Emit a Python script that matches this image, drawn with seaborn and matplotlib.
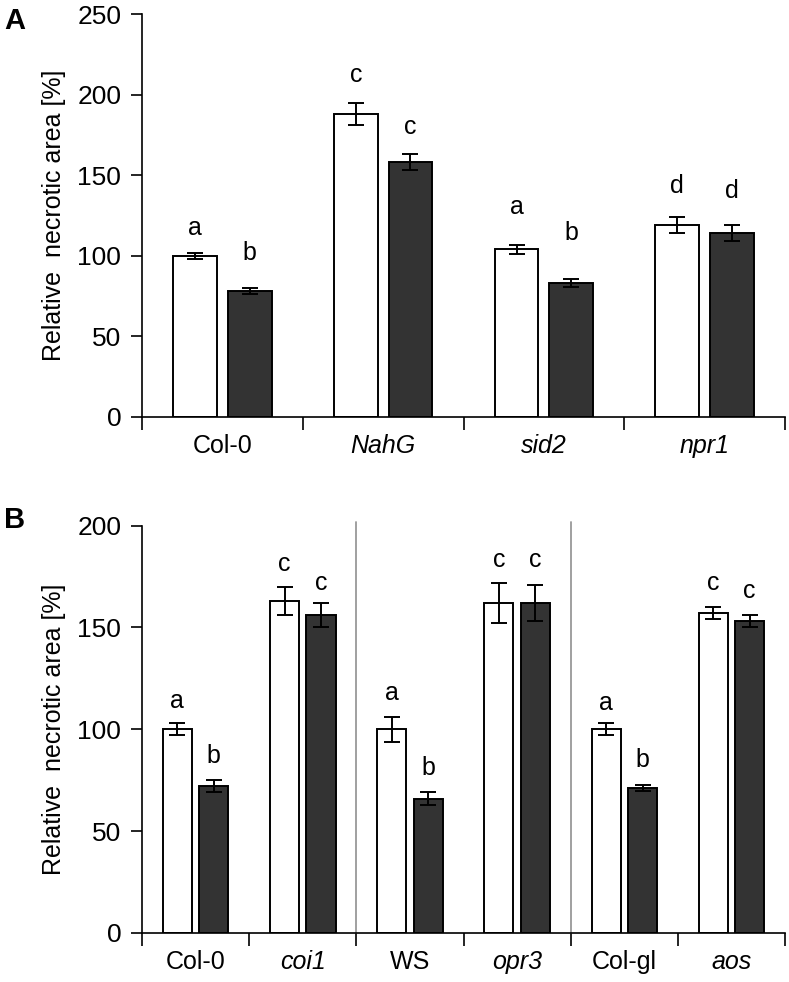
import numpy as np
import pandas as pd
import matplotlib.pyplot as plt
import seaborn as sns

# Painel A
a_genotypes = ['Col-0', 'NahG', 'sid2', 'npr1']
a_mock = [100, 188, 104, 119]
a_mock_err = [2, 7, 3, 5]
a_treat = [78, 158, 83, 114]
a_treat_err = [2, 5, 2.5, 5]
a_letters_mock = ['a', 'c', 'a', 'd']
a_letters_treat = ['b', 'c', 'b', 'd']
a_letter_y_mock = [117, 212, 130, 143]
a_letter_y_treat = [102, 180, 114, 140]

# Painel B
b_genotypes = ['Col-0', 'coi1', 'WS', 'opr3', 'Col-gl', 'aos']
b_mock = [100, 163, 100, 162, 100, 157]
b_mock_err = [3, 7, 6, 10, 3, 3]
b_treat = [72, 156, 66, 162, 71, 153]
b_treat_err = [3, 6, 3, 9, 1.5, 3]
b_letters_mock = ['a', 'c', 'a', 'c', 'a', 'c']
b_letters_treat = ['b', 'c', 'b', 'c', 'b', 'c']
b_letter_y_mock = [114, 181, 118, 183, 113, 172]
b_letter_y_treat = [87, 172, 81, 183, 85, 168]

italic = {'NahG', 'sid2', 'npr1', 'coi1', 'opr3', 'aos'}

sns.set_style('ticks')
plt.rcParams['font.family'] = ['Liberation Sans', 'DejaVu Sans']
plt.rcParams['text.color'] = 'black'
plt.rcParams['axes.labelcolor'] = 'black'
plt.rcParams['xtick.color'] = 'black'
plt.rcParams['ytick.color'] = 'black'
plt.rcParams['axes.edgecolor'] = 'black'

fig = plt.figure(figsize=(7.89, 9.82), dpi=100)
ax_a = fig.add_axes([0.18, 0.5754, 0.815, 0.4103])
ax_b = fig.add_axes([0.18, 0.0499, 0.815, 0.4148])


def painel(ax, genos, mock, mock_err, treat, treat_err, lm, lt, ym, yt, ymax, step):
    df = pd.DataFrame({
        'geno': genos * 2,
        'val': mock + treat,
        'trat': ['mock'] * len(genos) + ['trat'] * len(genos),
    })
    sns.barplot(data=df, x='geno', y='val', hue='trat', ax=ax,
                palette={'mock': 'white', 'trat': '#333333'},
                edgecolor='black', linewidth=1.4, width=0.68, gap=0.2,
                errorbar=None, legend=False, saturation=1)
    n = len(genos)
    bars = ax.patches[:2 * n]
    errs = mock_err + treat_err
    vals = mock + treat
    letras = lm + lt
    ys = ym + yt
    for p, v, e, l, y in zip(bars, vals, errs, letras, ys):
        cx = p.get_x() + p.get_width() / 2
        ax.errorbar(cx, v, yerr=e, color='black', capsize=6, elinewidth=1.4,
                    capthick=1.4)
        ax.text(cx, y, l, ha='center', va='center', fontsize=18)
    ax.set_xlim(-0.5, n - 0.5)
    ax.set_ylim(0, ymax)
    ax.set_yticks(np.arange(0, ymax + 1, step))
    ax.set_xticks(np.arange(-0.5, n, 1))
    ax.set_xticklabels([])
    ax.set_xticks(np.arange(n), minor=True)
    ax.set_xticklabels(genos, minor=True, fontsize=18)
    for t in ax.get_xticklabels(minor=True):
        if t.get_text() in italic:
            t.set_style('italic')
    ax.tick_params(axis='x', which='major', length=9, width=1.2, direction='out')
    ax.tick_params(axis='x', which='minor', length=0, pad=12)
    ax.tick_params(axis='y', length=8, width=1.2, labelsize=19, pad=7)
    ax.set_xlabel('')
    ax.set_ylabel('Relative  necrotic area [%]', fontsize=18, labelpad=8)
    sns.despine(ax=ax)
    for s in ['left', 'bottom']:
        ax.spines[s].set_linewidth(1.2)


painel(ax_a, a_genotypes, a_mock, a_mock_err, a_treat, a_treat_err,
       a_letters_mock, a_letters_treat, a_letter_y_mock, a_letter_y_treat, 250, 50)
painel(ax_b, b_genotypes, b_mock, b_mock_err, b_treat, b_treat_err,
       b_letters_mock, b_letters_treat, b_letter_y_mock, b_letter_y_treat, 200, 50)

# linhas separadoras no painel B
for xs in [1.5, 3.5]:
    ax_b.axvline(xs, ymin=0, ymax=1.01, color='#999999', lw=1.3, clip_on=False)

fig.text(0.005, 0.970, 'A', fontsize=21, fontweight='bold')
fig.text(0.005, 0.462, 'B', fontsize=21, fontweight='bold')

fig.savefig('out.png', dpi=100)
